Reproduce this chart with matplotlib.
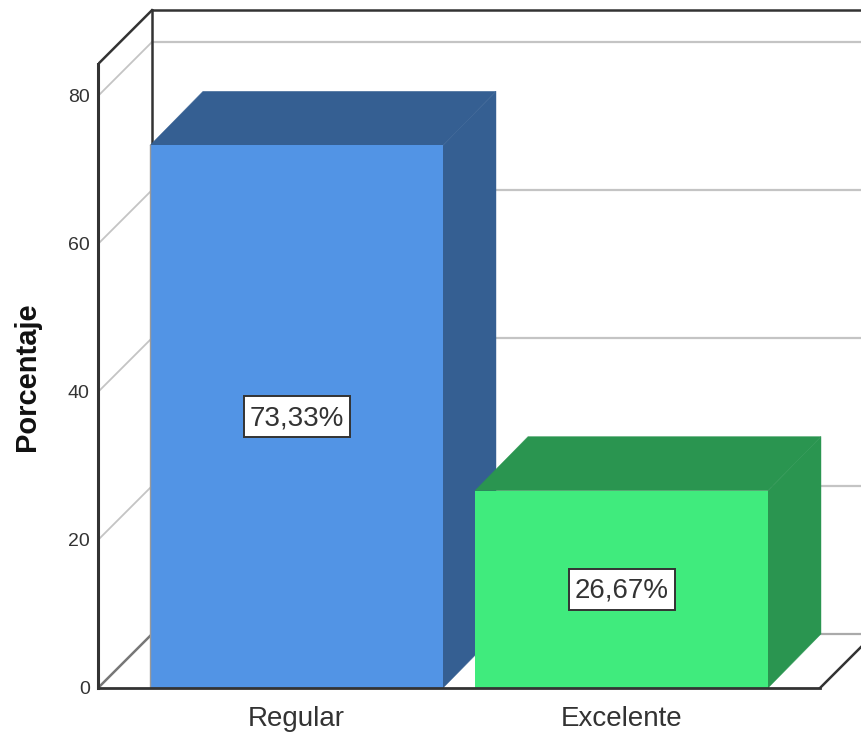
import matplotlib
matplotlib.use("Agg")
import matplotlib.pyplot as plt
from matplotlib.patches import Polygon, Rectangle

plt.rcParams['font.family'] = ['Liberation Sans', 'DejaVu Sans']

# Datos del grafico
categories = ["Regular", "Excelente"]
percentages = [73.33, 26.67]
value_labels = ["73,33%", "26,67%"]
y_ticks = [0, 20, 40, 60, 80]

front_colors = ["#5294E5", "#40EB7D"]
dark_colors = ["#355F92", "#2A9550"]

fig = plt.figure(figsize=(8.61, 7.34), dpi=100)
ax = fig.add_axes([98 / 861, (734 - 688) / 734, (861 - 98) / 861, 688 / 734])

# escala: 325 px por categoria, 7.4 px por unidad de porcentaje
ax.set_xlim((98 - 296.5) / 325, (861 - 296.5) / 325)
ax.set_ylim(0, 688 / 7.4)

bar_width = 293 / 325
wall_dx = 54 / 325
bar_dx = 53 / 325
depth_y = 54 / 7.4
wall_top = 84.3
x_left = -198.5 / 325
x_right = (820 - 296.5) / 325
x_end = ax.get_xlim()[1]
dark = "#333333"
grid = "#C4C4C4"

# lineas de la pared del fondo y lateral
for t in y_ticks[1:]:
    ax.plot([x_left, x_left + wall_dx], [t, t + depth_y], color=grid, lw=1.3, zorder=1)
    ax.plot([x_left + wall_dx, x_end], [t + depth_y, t + depth_y], color=grid, lw=1.6, zorder=1)

# suelo
ax.plot([x_left, x_left + wall_dx], [0, depth_y], color="#777777", lw=1.8, zorder=1)
ax.plot([x_left + wall_dx, x_end], [depth_y, depth_y], color="#AAAAAA", lw=1.6, zorder=1)
ax.plot([x_right, x_right + wall_dx], [0, depth_y], color=dark, lw=1.8, zorder=1)

# marco
ax.plot([x_left, x_left], [0, wall_top], color=dark, lw=2.2, zorder=2, clip_on=False)
ax.plot([x_left, x_left + wall_dx], [wall_top, wall_top + depth_y], color=dark, lw=1.8, zorder=2)
ax.plot([x_left + wall_dx, x_left + wall_dx], [0, wall_top + depth_y], color=dark, lw=1.8, zorder=2)
ax.plot([x_left + wall_dx, x_end], [wall_top + depth_y, wall_top + depth_y], color=dark, lw=1.8, zorder=2)

# barras 3D
for i, value in enumerate(percentages):
    left = i - bar_width / 2
    right = i + bar_width / 2
    z = 3 + i
    top_face = [(left, value), (right, value), (right + bar_dx, value + depth_y), (left + bar_dx, value + depth_y)]
    side_face = [(right, 0), (right + bar_dx, depth_y), (right + bar_dx, value + depth_y), (right, value)]
    ax.add_patch(Polygon(top_face, closed=True, facecolor=dark_colors[i], edgecolor=dark_colors[i], lw=0.3, zorder=z))
    ax.add_patch(Polygon(side_face, closed=True, facecolor=dark_colors[i], edgecolor=dark_colors[i], lw=0.3, zorder=z))
    ax.bar(i, value, width=bar_width, color=front_colors[i], zorder=z + 0.1)
    # etiqueta con caja blanca
    box_w = 106 / 325
    box_h = 41 / 7.4
    ax.add_patch(Rectangle((i - box_w / 2, value / 2 - box_h / 2), box_w, box_h, facecolor="white",
                           edgecolor="#333333", lw=1.4, zorder=6))
    ax.text(i, value / 2 - 0.2, value_labels[i], ha="center", va="center", fontsize=20, color="#333333", zorder=7)

# borde gris de la primera barra
ax.plot([-bar_width / 2, -bar_width / 2], [0, percentages[0]], color="#999999", lw=1, zorder=4)

ax.plot([x_left, x_right], [0, 0], color=dark, lw=2, zorder=5, clip_on=False)

ax.set_xticks(range(len(categories)))
ax.set_xticklabels(categories, fontsize=20, color="#333333")
ax.set_yticks(y_ticks)
ax.set_yticklabels([str(t) for t in y_ticks], fontsize=14, color="#333333")
ax.tick_params(axis="both", length=0)
ax.tick_params(axis="x", pad=13)
ax.tick_params(axis="y", pad=6)
ax.patch.set_visible(False)
for spine in ax.spines.values():
    spine.set_visible(False)

fig.text(27 / 861, 1 - 377 / 734, "Porcentaje", rotation=90, fontsize=21, fontweight="bold",
         color="#111111", ha="center", va="center")

fig.savefig("out.png", dpi=100, facecolor="white")
